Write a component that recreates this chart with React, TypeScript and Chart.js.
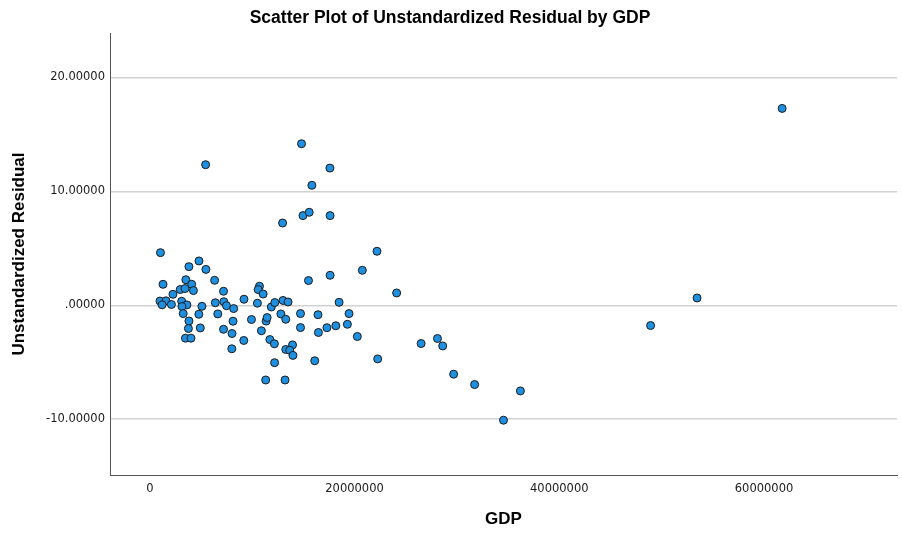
import React, { useEffect, useRef } from "react";
import { Chart, registerables } from "chart.js";

Chart.register(...registerables);

const gdp = [
  14820000, 5450000, 17590000, 15830000, 14960000, 15570000, 17610000, 12970000, 1040000, 22190000,
  20760000, 17610000, 15500000, 4800000, 3820000, 5480000, 6330000, 7200000, 1290000, 3520000,
  4090000, 2970000, 3440000, 4260000, 2260000, 10710000, 10580000, 11070000, 990000, 1580000,
  1200000, 2110000, 3110000, 3620000, 3140000, 5090000, 6400000, 7230000, 7490000, 8190000,
  9200000, 10510000, 11870000, 12210000, 13010000, 13500000, 18490000, 24110000, 3260000, 3820000,
  4790000, 6640000, 3770000, 4930000, 3480000, 4020000, 7200000, 8130000, 8030000, 9180000,
  8010000, 9930000, 11360000, 11460000, 10900000, 12800000, 13280000, 11730000, 12170000, 13940000,
  13280000, 13670000, 13980000, 12190000, 11320000, 13210000, 14720000, 14720000, 16430000, 16470000,
  17300000, 18170000, 19300000, 19460000, 20270000, 16110000, 22260000, 26500000, 28100000, 28610000,
  29680000, 31730000, 36200000, 34550000, 61770000, 53460000, 48920000,
];

const residual = [
  14.18, 12.34, 12.04, 10.53, 7.87, 8.16, 7.87, 7.22, 4.62, 4.74,
  3.07, 2.63, 2.17, 3.89, 3.39, 3.15, 2.19, 1.23, 1.84, 2.24,
  1.84, 1.38, 1.47, 1.29, 0.96, 1.67, 1.38, 0.99, 0.37, 0.39,
  0.04, 0.07, 0.35, 0.03, -0.11, -0.09, 0.22, 0.31, -0.04, -0.29,
  0.53, 0.18, -0.15, 0.24, 0.42, 0.29, 0.26, 1.08, -0.73, -1.38,
  -0.79, -0.76, -2.04, -1.99, -2.89, -2.89, -2.11, -1.4, -2.48, -3.09,
  -3.82, -1.25, -1.39, -1.08, -2.24, -0.76, -1.23, -3.01, -3.38, -3.48,
  -3.88, -3.95, -4.4, -5.04, -6.56, -6.56, -0.73, -1.96, -0.83, -2.39,
  -1.97, -1.8, -1.67, -0.73, -2.74, -4.87, -4.71, -3.36, -2.92, -3.57,
  -6.05, -6.96, -7.52, -10.09, 17.28, 0.64, -1.78,
];

const xTickValues = [0, 20000000, 40000000, 60000000];
const yTickValues = [-10, 0, 10, 20];

const titleText = "Scatter Plot of Unstandardized Residual by GDP";
const xTitle = "GDP";
const yTitle = "Unstandardized Residual";

const boldFamily = '"Liberation Sans", Arial, sans-serif';
const tickFamily = '"DejaVu Sans", sans-serif';

export default function App() {
  const ref = useRef<HTMLCanvasElement>(null);

  useEffect(() => {
    document.body.style.margin = "0";
    const canvas = ref.current;
    if (!canvas) return;
    const chart = new Chart(canvas, {
      type: "scatter",
      data: {
        datasets: [
          {
            data: gdp.map((x, i) => ({ x, y: residual[i] })),
            backgroundColor: "#1f8fe0",
            borderColor: "#1b1b1b",
            borderWidth: 1,
            pointRadius: 4,
            pointHoverRadius: 4,
          },
        ],
      },
      options: {
        animation: false,
        responsive: false,
        layout: { padding: { left: 0, right: 2, top: 0, bottom: 0 } },
        plugins: {
          legend: { display: false },
          tooltip: { enabled: false },
          title: {
            display: true,
            text: titleText,
            color: "#000",
            font: { family: boldFamily, size: 17.5, weight: "bold" },
            padding: { top: 8, bottom: 4 },
          },
        },
        scales: {
          x: {
            type: "linear",
            min: -3890000,
            max: 72990000,
            afterBuildTicks: (s: any) => {
              s.ticks = xTickValues.map((v) => ({ value: v }));
            },
            afterFit: (s: any) => {
              s.height = 60;
            },
            grid: { display: false, drawTicks: false },
            border: { display: true, color: "#555", width: 1 },
            ticks: {
              padding: 7,
              color: "#1a1a1a",
              font: { family: tickFamily, size: 11.5 },
              maxRotation: 0,
              callback: (v: any) => String(v),
            },
            title: {
              display: true,
              text: xTitle,
              color: "#000",
              font: { family: boldFamily, size: 17, weight: "bold" },
              padding: { top: 0, bottom: 5 },
            },
          },
          y: {
            type: "linear",
            min: -14.9,
            max: 23.9,
            afterBuildTicks: (s: any) => {
              s.ticks = yTickValues.map((v) => ({ value: v }));
            },
            afterFit: (s: any) => {
              s.width = 110;
            },
            grid: { display: true, drawTicks: false, color: "#d2d2d2", lineWidth: 1.5 },
            border: { display: true, color: "#555", width: 1 },
            ticks: {
              padding: 5,
              color: "#1a1a1a",
              font: { family: tickFamily, size: 11.5 },
              callback: (v: any) => (v === 0 ? ".00000" : Number(v).toFixed(5)),
            },
            title: {
              display: true,
              text: yTitle,
              color: "#000",
              font: { family: boldFamily, size: 17, weight: "bold" },
              padding: { top: 9, bottom: 0 },
            },
          },
        },
      },
    });
    return () => chart.destroy();
  }, []);

  return (
    <div style={{ width: 902, height: 535 }}>
      <canvas ref={ref} width={902} height={535} style={{ display: "block" }} />
    </div>
  );
}
